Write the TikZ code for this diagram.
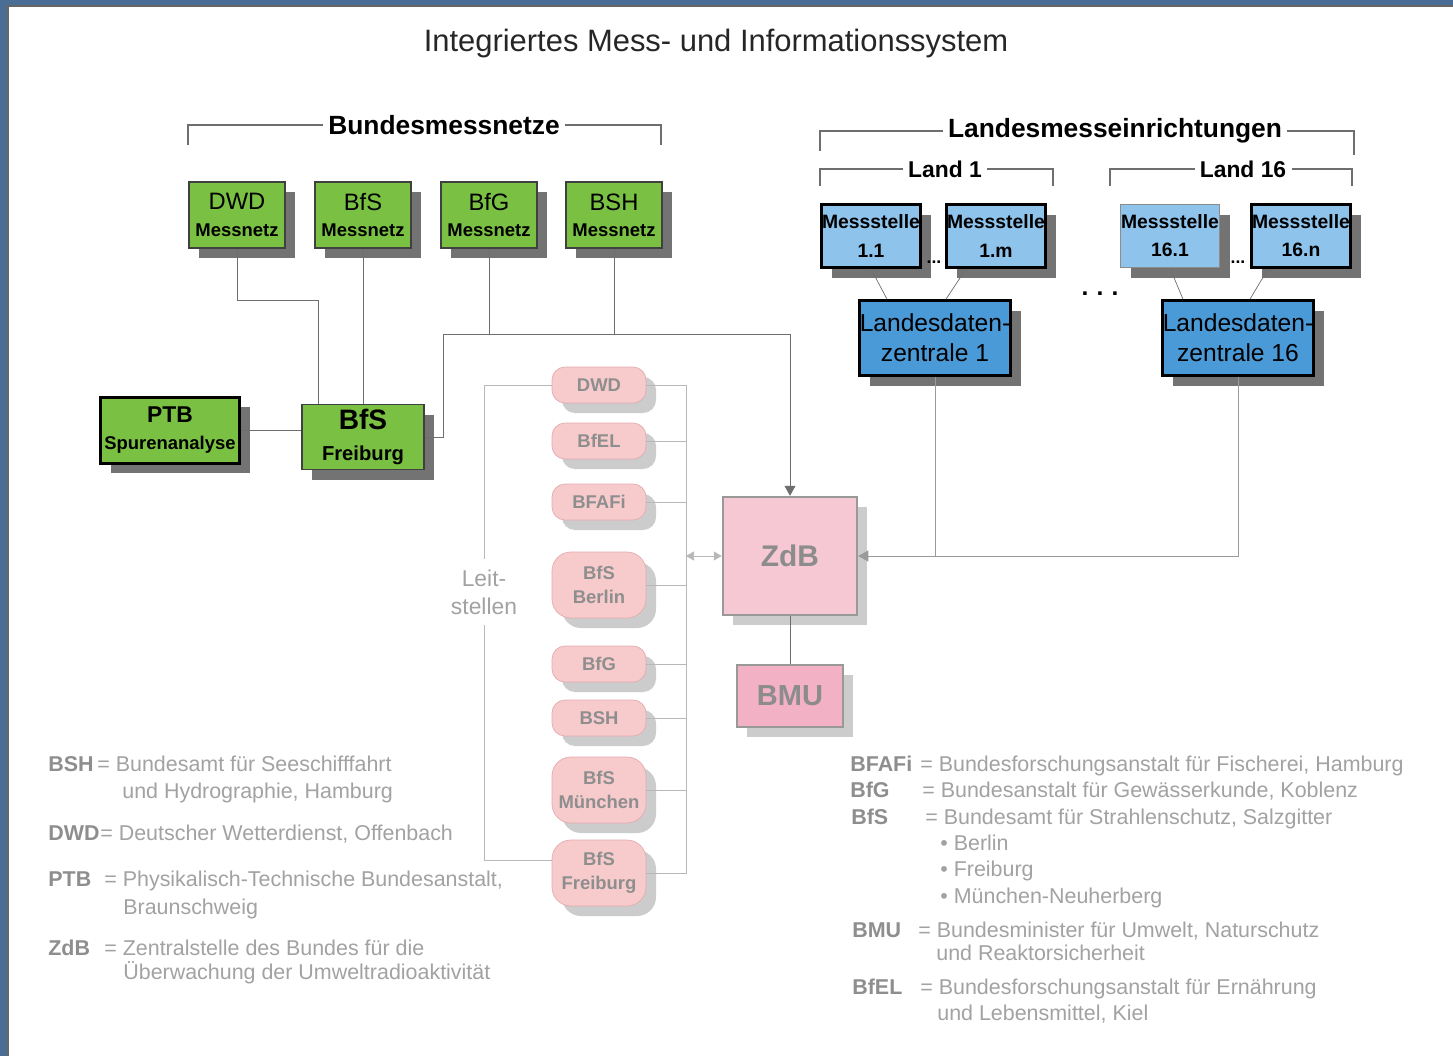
\documentclass[tikz,border=0pt]{standalone}
\usepackage{fontspec}
\setmainfont{Liberation Sans}
\usetikzlibrary{arrows.meta,positioning,calc,shadows}
\definecolor{frameblue}{HTML}{4A6D96}
\definecolor{netgreen}{HTML}{7AC143}
\definecolor{stelleblue}{HTML}{8EC3EC}
\definecolor{zentrblue}{HTML}{4A9AD8}
\definecolor{leitpink}{HTML}{F7CBCC}
\definecolor{leitrim}{HTML}{E3ABAE}
\definecolor{zdbpink}{HTML}{F6C8D4}
\definecolor{bmupink}{HTML}{F2B1C5}
\definecolor{paletext}{HTML}{A2A2A2}
\definecolor{palekey}{HTML}{8E8E8E}
\definecolor{wire}{HTML}{6E6E6E}
\definecolor{palewire}{HTML}{B8B8B8}

\begin{document}
\begin{tikzpicture}[x=0.2mm,y=-0.2mm,
 darkshadow/.style={drop shadow={shadow xshift=2mm,shadow yshift=-2mm,fill=black!55,opacity=1}},
 paleshadow/.style={drop shadow={shadow xshift=2mm,shadow yshift=-2mm,fill=black!20,opacity=1}},
 netbox/.style={draw=black!75,fill=netgreen,line width=0.3mm,minimum width=19.2mm,minimum height=13.2mm,inner sep=0pt,align=center,darkshadow,font=\fontsize{13.5}{15}\selectfont},
 stellebox/.style={draw=black,fill=stelleblue,line width=0.55mm,minimum width=19.8mm,minimum height=12.6mm,inner sep=0pt,align=center,darkshadow,font=\fontsize{11}{16}\selectfont\bfseries},
 zentrbox/.style={draw=black,fill=zentrblue,line width=0.55mm,minimum width=30.2mm,minimum height=15mm,inner sep=0pt,align=center,darkshadow,font=\fontsize{14}{17}\selectfont},
 leitbox/.style={draw=leitrim,fill=leitpink,rounded corners=2.6mm,minimum width=18.8mm,minimum height=7.2mm,inner sep=0pt,align=center,text=palekey,paleshadow,font=\fontsize{10.5}{13.5}\selectfont\bfseries},
 leitbig/.style={leitbox,minimum height=13.2mm,rounded corners=3.8mm},
 headlabel/.style={inner sep=1mm,font=\fontsize{15}{18}\selectfont\bfseries},
 landlabel/.style={inner sep=1mm,font=\fontsize{13}{16}\selectfont\bfseries},
 abbr/.style={anchor=base west,inner sep=0pt,text=palekey,font=\fontsize{12.2}{14}\selectfont\bfseries},
 desc/.style={anchor=base west,inner sep=0pt,text=paletext,font=\fontsize{12.2}{14}\selectfont},
 tip/.style={-{Triangle[width=2.2mm,length=2mm]}}]
% frame
\useasboundingbox (0,0) rectangle (1453,1056);
\fill[frameblue] (0,0) rectangle (1453,1056);
\fill[white] (8,6) rectangle (1453,1056);
\draw[black!60,line width=0.4mm] (8,1056) -- (8,6) -- (1453,6);

\node[font=\fontsize{17.6}{20}\selectfont,text=black!85] (title) at (716,43) {Integriertes Mess- und Informationssystem};

% Bundesmessnetze
\node[headlabel] (bmn) at (444,125) {Bundesmessnetze};
\coordinate (bmnL) at (188,145);
\coordinate (bmnR) at (661,145);
\draw[wire,line width=0.3mm] (bmn.west) -| (bmnL);
\draw[wire,line width=0.3mm] (bmn.east) -| (bmnR);

\node[netbox] (dwdm) at (237,215) {DWD\\\fontsize{10.5}{13}\selectfont\bfseries Messnetz};
\node[netbox] (bfsm) at (363,215) {BfS\\\fontsize{10.5}{13}\selectfont\bfseries Messnetz};
\node[netbox] (bfgm) at (489,215) {BfG\\\fontsize{10.5}{13}\selectfont\bfseries Messnetz};
\node[netbox] (bshm) at (614,215) {BSH\\\fontsize{10.5}{13}\selectfont\bfseries Messnetz};

\node[netbox,draw=black,line width=0.6mm,minimum width=27.8mm,font=\fontsize{13}{15}\selectfont\bfseries] (ptb) at (170,430) {PTB\\\fontsize{10.5}{13}\selectfont\bfseries Spurenanalyse};
\node[netbox,minimum width=24.4mm,minimum height=13mm,font=\fontsize{16}{18}\selectfont\bfseries] (bfsfr) at (363,437) {BfS\\\fontsize{11.5}{14}\selectfont\bfseries Freiburg};

% Landesmesseinrichtungen
\node[headlabel] (lme) at (1115,131) {Landesmesseinrichtungen};
\coordinate (lmeL) at (820,151);
\coordinate (lmeR) at (1354,155);
\draw[wire,line width=0.3mm] (lme.west) -| (lmeL);
\draw[wire,line width=0.3mm] (lme.east) -| (lmeR);
\node[landlabel] (land1) at (945,169) {Land 1};
\coordinate (land1L) at (820,186);
\coordinate (land1R) at (1053,186);
\draw[wire,line width=0.3mm] (land1.west) -| (land1L);
\draw[wire,line width=0.3mm] (land1.east) -| (land1R);
\node[landlabel] (land16) at (1243,169) {Land 16};
\coordinate (land16L) at (1110,186);
\coordinate (land16R) at (1352,186);
\draw[wire,line width=0.3mm] (land16.west) -| (land16L);
\draw[wire,line width=0.3mm] (land16.east) -| (land16R);

\node[stellebox] (ms11) at (871,236) {Messstelle\\1.1};
\node[stellebox] (ms1m) at (996,236) {Messstelle\\1.m};
\node[stellebox,draw=black!45,line width=0.3mm] (ms161) at (1170,236) {Messstelle\\16.1};
\node[stellebox] (ms16n) at (1301,236) {Messstelle\\16.n};
\node[font=\fontsize{10}{12}\selectfont\bfseries,inner sep=0pt] (dots1) at (934,262) {...};
\node[font=\fontsize{10}{12}\selectfont\bfseries,inner sep=0pt] (dots16) at (1238,262) {...};
\node[font=\fontsize{14}{16}\selectfont\bfseries,inner sep=0pt] (dotsmid) at (1100,294) {.\,\,.\,\,.};

\node[zentrbox] (ldz1) at (935,338) {Landesdaten-\\zentrale 1};
\node[zentrbox] (ldz16) at (1238,338) {Landesdaten-\\zentrale 16};

\draw[wire] (ms11.south) -- ($(ldz1.north)+(-48,0)$);
\draw[wire] ($(ms1m.south)+(-30,0)$) -- ($(ldz1.north)+(11,0)$);
\draw[wire] (ms161.south) -- ($(ldz16.north)+(-55,0)$);
\draw[wire] ($(ms16n.south)+(-33,0)$) -- ($(ldz16.north)+(12,0)$);

% ZdB und BMU
\node[draw=black!40,fill=zdbpink,line width=0.5mm,minimum width=26.8mm,minimum height=23.6mm,text=black!45,font=\fontsize{17}{20}\selectfont\bfseries,paleshadow] (zdb) at (790,556) {ZdB};
\node[draw=black!40,fill=bmupink,line width=0.5mm,minimum width=21.2mm,minimum height=12.4mm,text=black!45,font=\fontsize{16.5}{20}\selectfont\bfseries,paleshadow] (bmu) at (790,696) {BMU};
\draw[wire] (zdb.south) -- (bmu.north);

% Leitstellen
\node[leitbox] (ldwd) at (599,385) {DWD};
\node[leitbox] (lbfel) at (599,441) {BfEL};
\node[leitbox] (lbfafi) at (599,502) {BFAFi};
\node[leitbig] (lberlin) at (599,585) {BfS\\Berlin};
\node[leitbox] (lbfg) at (599,664) {BfG};
\node[leitbox] (lbsh) at (599,718) {BSH};
\node[leitbig] (lmuen) at (599,790) {BfS\\München};
\node[leitbig] (lfrei) at (599,873) {BfS\\Freiburg};
\node[align=center,inner sep=2mm,text=paletext,font=\fontsize{13}{16}\selectfont] (leit) at (484,592) {Leit-\\stellen};

\coordinate (lrail) at (686,385);
\draw[palewire] (ldwd.east) -- (lrail) |- (lfrei.east);
\draw[palewire] (lbfel.east) -- (lbfel.east -| lrail);
\draw[palewire] (lbfafi.east) -- (lbfafi.east -| lrail);
\draw[palewire] (lberlin.east) -- (lberlin.east -| lrail);
\draw[palewire] (lbfg.east) -- (lbfg.east -| lrail);
\draw[palewire] (lbsh.east) -- (lbsh.east -| lrail);
\draw[palewire] (lmuen.east) -- (lmuen.east -| lrail);
\draw[palewire] (ldwd.west) -| (leit.north);
\draw[palewire] (leit.south) |- ([yshift=2.6mm]lfrei.west);
\draw[palewire,{Triangle[width=1.8mm,length=1.6mm]}-{Triangle[width=1.8mm,length=1.6mm]}] (lrail |- zdb.west) -- (zdb.west);

% Verbindungen Bund
\coordinate (dwdk) at (318,300);
\coordinate (busA) at (443,334);
\coordinate (busB) at (790,334);
\draw[wire] (dwdm.south) |- (dwdk) -- (dwdk |- bfsfr.north);
\draw[wire] (bfsm.south) -- (bfsm.south |- bfsfr.north);
\draw[wire] (ptb.east) -- (ptb.east -| bfsfr.west);
\draw[wire] (bfgm.south) -- (bfgm.south |- busA);
\draw[wire] (bshm.south) -- (bshm.south |- busA);
\draw[wire] (bfsfr.east) -| (busA) -- (busB);
\draw[wire,tip] (busB) -- (zdb.north);

% Verbindungen Laender
\draw[wire!70] (ldz1.south) -- (ldz1.south |- zdb.east);
\draw[wire!70,tip] (ldz16.south) |- (zdb.east);

% Legende links
\node[abbr] (kbsh) at (48,771) {BSH};
\node[desc] (tbsh) at (97,771) {= Bundesamt für Seeschifffahrt};
\node[desc] (tbsh2) at (122,798) {und Hydrographie, Hamburg};
\node[abbr] (kdwd) at (48,840) {DWD};
\node[desc] (tdwd) at (100,840) {= Deutscher Wetterdienst, Offenbach};
\node[abbr] (kptb) at (48,886) {PTB};
\node[desc] (tptb) at (104,886) {= Physikalisch-Technische Bundesanstalt,};
\node[desc] (tptb2) at (123,914) {Braunschweig};
\node[abbr] (kzdb) at (48,955) {ZdB};
\node[desc] (tzdb) at (104,955) {= Zentralstelle des Bundes für die};
\node[desc] (tzdb2) at (123,979) {Überwachung der Umweltradioaktivität};

% Legende rechts
\node[abbr] (kbfafi) at (850,771) {BFAFi};
\node[desc] (tbfafi) at (920,771) {= Bundesforschungsanstalt für Fischerei, Hamburg};
\node[abbr] (kbfg) at (850,797) {BfG};
\node[desc] (tbfg) at (922,797) {= Bundesanstalt für Gewässerkunde, Koblenz};
\node[abbr] (kbfs) at (851,824) {BfS};
\node[desc] (tbfs) at (925,824) {= Bundesamt für Strahlenschutz, Salzgitter};
\node[desc] (tbfs1) at (940,850) {\textbullet\ Berlin};
\node[desc] (tbfs2) at (940,876) {\textbullet\ Freiburg};
\node[desc] (tbfs3) at (940,903) {\textbullet\ München-Neuherberg};
\node[abbr] (kbmu) at (852,937) {BMU};
\node[desc] (tbmu) at (918,937) {= Bundesminister für Umwelt, Naturschutz};
\node[desc] (tbmu2) at (936,960) {und Reaktorsicherheit};
\node[abbr] (kbfel) at (852,994) {BfEL};
\node[desc] (tbfel) at (920,994) {= Bundesforschungsanstalt für Ernährung};
\node[desc] (tbfel2) at (937,1020) {und Lebensmittel, Kiel};
\end{tikzpicture}
\end{document}
